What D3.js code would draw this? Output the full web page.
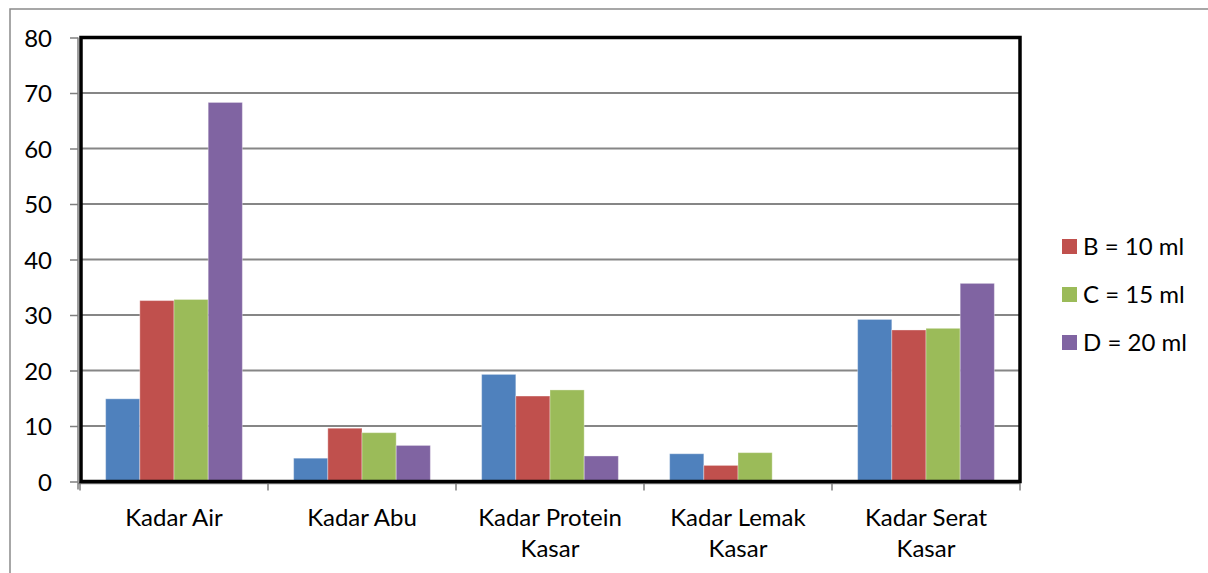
<!DOCTYPE html>
<html>
<head>
<meta charset="utf-8">
<script src="https://cdn.jsdelivr.net/npm/d3@7"></script>
<style>
  html, body { margin: 0; padding: 0; background: #fff; }
  svg { display: block; }
  text { font-family: Lato, "Open Sans", sans-serif; fill: #000; }
</style>
</head>
<body>
<svg id="chart" width="1208" height="573"></svg>
<script>
// ---- data ----
const categories = ["Kadar Air", "Kadar Abu", "Kadar Protein Kasar", "Kadar Lemak Kasar", "Kadar Serat Kasar"];
const seriesNames = ["A", "B = 10 ml", "C = 15 ml", "D = 20 ml"];
const legendSeries = ["B = 10 ml", "C = 15 ml", "D = 20 ml"];
const valuesA = [14.9, 4.2, 19.3, 5.0, 29.2];
const valuesB = [32.6, 9.6, 15.4, 2.9, 27.3];
const valuesC = [32.8, 8.8, 16.5, 5.2, 27.6];
const valuesD = [68.3, 6.5, 4.6, 0, 35.7];
const yTicks = [0, 10, 20, 30, 40, 50, 60, 70, 80];
const colors = ["#4F81BD", "#C0504D", "#9BBB59", "#8064A2"];

const seriesValues = [valuesA, valuesB, valuesC, valuesD];

(function () {
const svg = d3.select("#chart");
const fontSize = 24;

// outer frame (partially visible)
svg.append("path")
  .attr("d", "M10,573 L10,9 L1208,9")
  .attr("fill", "none").attr("stroke", "#8a8a8a").attr("stroke-width", 1.5);

const pLeft = 80, pRight = 1020, pTop = 37.5, pBottom = 481.5;

const x0 = d3.scaleBand().domain(categories).range([pLeft, pRight]).padding(0);
const x1 = d3.scaleBand().domain(seriesNames).range([0, x0.bandwidth()])
  .paddingInner(0).paddingOuter(0.75);
const y = d3.scaleLinear().domain([0, 80]).range([pBottom, pTop]);

// gridlines
svg.append("g").selectAll("line").data(yTicks.filter(t => t > 0 && t < 80)).join("line")
  .attr("x1", pLeft).attr("x2", pRight)
  .attr("y1", d => y(d)).attr("y2", d => y(d))
  .attr("stroke", "#868686").attr("stroke-width", 2);

// bars
const groups = svg.append("g").selectAll("g").data(categories).join("g")
  .attr("transform", d => `translate(${x0(d)},0)`);
groups.selectAll("rect")
  .data((c, ci) => seriesNames.map((s, si) => ({ s, si, v: seriesValues[si][ci] })))
  .join("rect")
  .attr("x", d => x1(d.s))
  .attr("width", x1.bandwidth())
  .attr("y", d => y(d.v))
  .attr("height", d => y(0) - y(d.v))
  .attr("fill", d => colors[d.si])
  .attr("stroke", "rgba(255,255,255,0.35)")
  .attr("stroke-width", 1);

// y axis (grey line + ticks)
const yAxis = d3.axisLeft(y).tickValues(yTicks).tickSize(8).tickPadding(18).tickFormat(d3.format("d"));
const yg = svg.append("g").attr("transform", `translate(${pLeft - 2},0)`).call(yAxis);
yg.select(".domain").attr("stroke", "#7f7f7f").attr("stroke-width", 1.5)
  .attr("d", `M0,${pTop}V${pBottom + 8}`);
yg.selectAll(".tick line").attr("stroke", "#7f7f7f").attr("stroke-width", 1.5);
yg.selectAll(".tick text").attr("font-size", fontSize).attr("font-family", "Lato, sans-serif")
  .attr("fill", "#000").attr("dy", "0.36em");

// x axis (grey line + ticks at category boundaries)
const xg = svg.append("g");
xg.append("line").attr("x1", pLeft - 2).attr("x2", pRight).attr("y1", pBottom + 2).attr("y2", pBottom + 2)
  .attr("stroke", "#7f7f7f").attr("stroke-width", 1.5);
const bounds = categories.map(c => x0(c)).concat([pRight]);
xg.selectAll("line.tk").data(bounds).join("line").attr("class", "tk")
  .attr("x1", d => d).attr("x2", d => d)
  .attr("y1", pBottom).attr("y2", pBottom + 9)
  .attr("stroke", "#7f7f7f").attr("stroke-width", 1.5);

// category labels (wrapped)
const labels = svg.append("g").selectAll("text").data(categories).join("text")
  .attr("x", d => x0(d) + x0.bandwidth() / 2)
  .attr("y", 517)
  .attr("text-anchor", "middle")
  .attr("font-size", fontSize);
labels.each(function(d) {
  const words = d.split(" ");
  const lines = words.length > 2 ? [words.slice(0, 2).join(" "), words.slice(2).join(" ")] : [d];
  d3.select(this).selectAll("tspan").data(lines).join("tspan")
    .attr("x", x0(d) + x0.bandwidth() / 2)
    .attr("dy", (l, i) => i === 0 ? "0.36em" : "31px")
    .text(l => l);
});

// plot area border (black)
svg.append("rect")
  .attr("x", pLeft + 1).attr("y", pTop).attr("width", pRight - pLeft - 1).attr("height", pBottom - pTop)
  .attr("fill", "none").attr("stroke", "#000").attr("stroke-width", 3.5);

// legend
const legend = svg.append("g").selectAll("g").data(legendSeries).join("g")
  .attr("transform", (d, i) => `translate(1062, ${239 + i * 48})`);
legend.append("rect").attr("width", 15).attr("height", 15)
  .attr("fill", d => colors[seriesNames.indexOf(d)]);
legend.append("text").attr("x", 21).attr("y", 7.5).attr("dy", "0.36em")
  .attr("font-size", fontSize).text(d => d);
})();
</script>
</body>
</html>
